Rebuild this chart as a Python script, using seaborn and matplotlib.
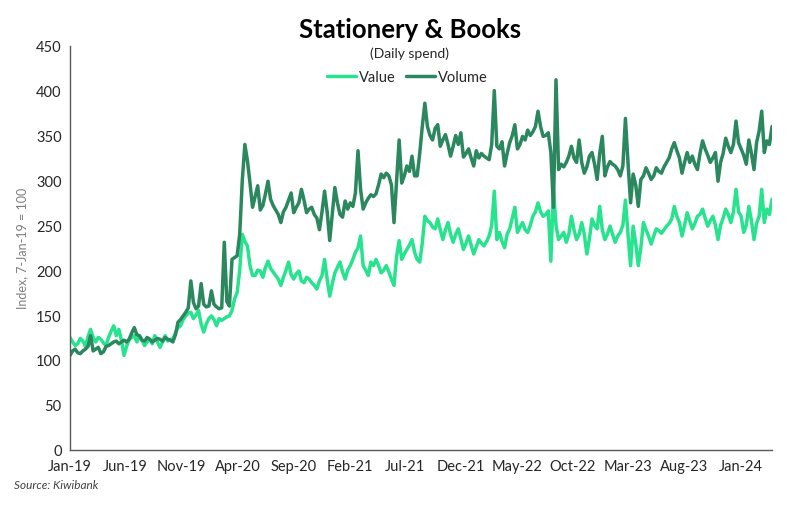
import numpy as np
import pandas as pd
import matplotlib
matplotlib.use("Agg")
import matplotlib.pyplot as plt
import matplotlib.dates as mdates
from matplotlib.lines import Line2D
import seaborn as sns

# ---------------- data (weekly index, 7-Jan-19 = 100) ----------------
start_date = "2019-01-07"

volume = [
    105, 110, 112, 108, 107, 110, 112, 115, 127, 110,
    112, 114, 107, 109, 115, 116, 118, 120, 121, 118,
    120, 122, 120, 123, 130, 136, 128, 127, 122, 121,
    125, 123, 120, 122, 124, 123, 121, 125, 123, 122,
    120, 128, 142, 145, 149, 153, 158, 188, 164, 157,
    160, 185, 162, 159, 160, 177, 162, 159, 157, 158,
    231, 165, 160, 212, 214, 216, 240, 300, 340, 322,
    297, 270, 282, 294, 267, 272, 285, 299, 279, 272,
    267, 262, 253, 265, 270, 278, 286, 264, 270, 275,
    290, 278, 264, 268, 270, 262, 258, 245, 265, 288,
    265, 233, 262, 292, 275, 262, 259, 277, 268, 275,
    271, 286, 333, 290, 268, 275, 280, 284, 282, 285,
    295, 307, 303, 308, 305, 295, 253, 300, 345, 297,
    305, 316, 310, 327, 305, 305, 330, 360, 386, 360,
    350, 345, 358, 362, 338, 345, 351, 340, 327, 338,
    350, 340, 353, 326, 330, 335, 325, 316, 333, 325,
    330, 327, 325, 323, 340, 400, 338, 335, 343, 316,
    330, 342, 350, 362, 335, 340, 349, 345, 356, 350,
    354, 360, 377, 360, 349, 350, 353, 331, 270, 412,
    312, 318, 315, 320, 327, 338, 325, 320, 345, 320,
    308, 315, 327, 331, 318, 301, 330, 349, 305, 315,
    321, 318, 316, 312, 305, 316, 369, 320, 275, 307,
    295, 271, 301, 305, 314, 308, 301, 305, 314, 310,
    308, 315, 320, 325, 335, 342, 333, 325, 308, 320,
    331, 320, 327, 318, 312, 330, 344, 335, 328, 320,
    325, 331, 299, 320, 330, 347, 338, 331, 340, 366,
    342, 335, 328, 318, 345, 330, 312, 342, 355, 377,
    331, 344, 340, 360,
]

value = [
    125, 120, 116, 118, 124, 121, 115, 126, 134, 125,
    120, 125, 123, 119, 116, 125, 132, 138, 127, 134,
    122, 105, 115, 123, 125, 127, 120, 127, 122, 116,
    120, 123, 118, 127, 120, 114, 120, 127, 121, 123,
    123, 130, 136, 138, 145, 149, 152, 153, 146, 150,
    155, 140, 131, 140, 146, 149, 145, 138, 146, 144,
    146, 148, 149, 155, 168, 175, 200, 240, 232, 227,
    205, 194, 194, 200, 199, 192, 203, 210, 202, 198,
    194, 190, 183, 192, 200, 209, 195, 190, 196, 199,
    188, 186, 192, 190, 186, 183, 179, 188, 194, 212,
    190, 171, 185, 197, 203, 209, 198, 190, 200, 205,
    212, 220, 225, 238, 205, 200, 194, 209, 205, 212,
    205, 197, 200, 205, 198, 190, 183, 215, 233, 212,
    218, 223, 228, 234, 220, 212, 209, 230, 260, 255,
    253, 248, 246, 257, 245, 234, 245, 253, 240, 231,
    240, 246, 235, 223, 230, 238, 228, 218, 226, 234,
    230, 227, 232, 238, 250, 288, 234, 242, 232, 225,
    240, 246, 258, 270, 242, 248, 253, 245, 242, 250,
    260, 265, 275, 265, 260, 262, 266, 210, 290, 250,
    234, 238, 242, 231, 240, 260, 245, 234, 240, 253,
    240, 218, 235, 257, 250, 246, 271, 245, 234, 240,
    249, 240, 231, 238, 242, 250, 278, 240, 205, 249,
    230, 205, 225, 253, 245, 238, 229, 238, 246, 244,
    241, 245, 249, 252, 257, 271, 260, 253, 238, 250,
    264, 255, 246, 252, 260, 262, 268, 258, 249, 255,
    260, 250, 234, 250, 258, 268, 262, 253, 265, 290,
    265, 260, 242, 250, 271, 255, 234, 252, 260, 290,
    253, 268, 262, 279,
]

tick_dates = ["2019-01-07", "2019-06-07", "2019-11-07", "2020-04-07", "2020-09-07",
              "2021-02-07", "2021-07-07", "2021-12-07", "2022-05-07", "2022-10-07",
              "2023-03-07", "2023-08-07", "2024-01-07"]
tick_labels = ["Jan-19", "Jun-19", "Nov-19", "Apr-20", "Sep-20", "Feb-21", "Jul-21",
               "Dec-21", "May-22", "Oct-22", "Mar-23", "Aug-23", "Jan-24"]
y_ticks = [0, 50, 100, 150, 200, 250, 300, 350, 400, 450]

dates = pd.date_range(start_date, periods=len(volume), freq="7D")
df = pd.DataFrame({"date": dates, "Value": value, "Volume": volume})

# ---------------- styling ----------------
sns.set_theme(style="white")
plt.rcParams["font.family"] = ["Lato", "DejaVu Sans"]

c_value = "#28E38E"
c_volume = "#2A875E"
axis_col = "#595959"

fig = plt.figure(figsize=(8.0, 5.06), dpi=100)
ax = fig.add_axes([0.0875, 0.1093, 0.8775, 0.7984])

sns.lineplot(data=df, x="date", y="Value", ax=ax, color=c_value, lw=2.5)
sns.lineplot(data=df, x="date", y="Volume", ax=ax, color=c_volume, lw=2.5)

ax.set_xlim(dates[0], dates[-1])
ax.set_ylim(0, 450)
ax.set_yticks(y_ticks)
ax.set_yticklabels([str(v) for v in y_ticks])
ax.set_xticks(pd.to_datetime(tick_dates))
ax.set_xticklabels(tick_labels)

for s in ["top", "right"]:
    ax.spines[s].set_visible(False)
for s in ["left", "bottom"]:
    ax.spines[s].set_color(axis_col)
    ax.spines[s].set_linewidth(1.0)

ax.tick_params(axis="both", which="major", length=4, width=1.0, color=axis_col,
               labelsize=10.5, labelcolor="#262626", direction="out")
ax.tick_params(axis="x", pad=3)
ax.tick_params(axis="y", pad=2)

ax.set_xlabel("")
ax.set_ylabel("Index, 7-Jan-19 = 100", fontsize=9, color="#7f7f7f", labelpad=6)

fig.text(0.5125, 0.94, "Stationery & Books", ha="center", va="center",
         fontsize=18.5, fontweight="bold", color="#000000")
fig.text(0.5125, 0.893, "(Daily spend)", ha="center", va="center",
         fontsize=10, color="#262626")

handles = [Line2D([0], [0], color=c_value, lw=2.5),
           Line2D([0], [0], color=c_volume, lw=2.5)]
fig.legend(handles, ["Value", "Volume"], loc="center", bbox_to_anchor=(0.509, 0.845),
           ncol=2, frameon=False, fontsize=10.5, handlelength=2.0, handletextpad=0.2,
           columnspacing=0.7)

fig.text(0.018, 0.04, "Source: Kiwibank", ha="left", va="center", fontsize=8.5,
         style="italic", color="#404040")

fig.savefig("out.png", dpi=100)
